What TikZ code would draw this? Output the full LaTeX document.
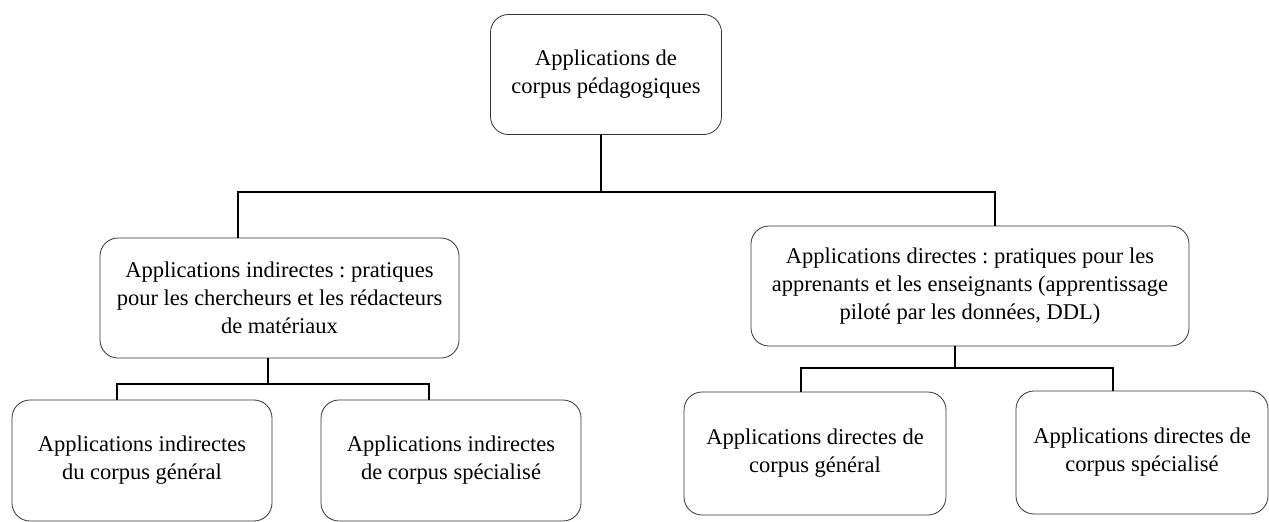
\documentclass[tikz,border=0pt]{standalone}
\usepackage{fontspec}
\setmainfont{Liberation Serif}
\usepackage{tikz}
\usetikzlibrary{calc}
\usetikzlibrary{positioning}
\frenchspacing

\tikzset{
	appbox/.style={draw=black!80, line width=0.8pt, rounded corners=18pt,
		align=center, inner sep=0pt, font=\fontsize{22.5}{28}\selectfont},
	branch/.style={draw=black, line width=1.8pt}
}

\begin{document}
\begin{tikzpicture}[x=1pt,y=-1pt]
		\useasboundingbox (0,0) rectangle (1269,522);
		% Ebene 1
		\node[appbox, minimum width=231pt, minimum height=120pt] (root) at (606,74.5) {Applications de\\corpus pédagogiques};
		% Ebene 2
		\node[appbox, minimum width=359pt, minimum height=120pt] (indir) at (279.5,298) {Applications indirectes : pratiques\\pour les chercheurs et les rédacteurs\\de matériaux};
		\node[appbox, minimum width=438pt, minimum height=120pt] (dir) at (970,286) {Applications directes : pratiques pour les\\apprenants et les enseignants (apprentissage\\piloté par les données, DDL)};
		% Ebene 3
		\node[appbox, minimum width=260pt, minimum height=121pt] (indirgen) at (142,460.5) {Applications indirectes\\du corpus général};
		\node[appbox, minimum width=260pt, minimum height=121pt] (indirspec) at (451,460.5) {Applications indirectes\\de corpus spécialisé};
		\node[appbox, minimum width=262pt, minimum height=123pt] (dirgen) at (815,453.5) {Applications directes de\\corpus général};
		\node[appbox, minimum width=252pt, minimum height=123pt] (dirspec) at (1142,452.5) {Applications directes de\\corpus spécialisé};

		\coordinate (jl) at (238,192);
		\coordinate (jm) at (601,192);
		\coordinate (jr) at (995,192);
		\coordinate (kl) at (117,384);
		\coordinate (km) at (268,384);
		\coordinate (kr) at (429,384);
		\coordinate (ml) at (801,368);
		\coordinate (mm) at (955,368);
		\coordinate (mr) at (1113,368);

		\draw[branch] (jm |- root.south) -- (jm);
		\draw[branch] (jl |- indir.north) -- (jl) -- (jr) -- (jr |- dir.north);
		\draw[branch] (km |- indir.south) -- (km);
		\draw[branch] (kl |- indirgen.north) -- (kl) -- (kr) -- (kr |- indirspec.north);
		\draw[branch] (mm |- dir.south) -- (mm);
		\draw[branch] (ml |- dirgen.north) -- (ml) -- (mr) -- (mr |- dirspec.north);
	\end{tikzpicture}
\end{document}
